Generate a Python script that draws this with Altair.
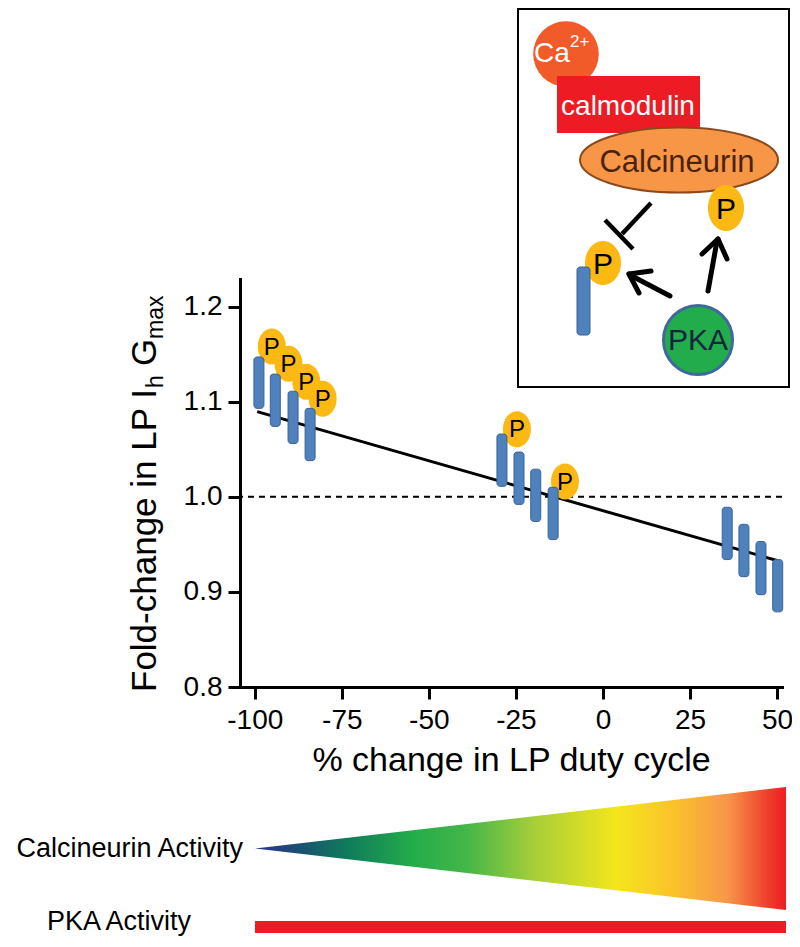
import altair as alt
import pandas as pd

FONT = "Liberation Sans, Arial, Helvetica, sans-serif"

# ---------------- data ----------------
bar_x = [-98.8, -94.1, -89.0, -84.1, -29.0, -24.1, -19.3, -14.3, 35.7, 40.5, 45.4, 50.2]
bar_top = [1.147, 1.129, 1.111, 1.093, 1.066, 1.047, 1.029, 1.010, 0.989, 0.971, 0.953, 0.934]
bar_bottom = [1.093, 1.074, 1.056, 1.038, 1.011, 0.992, 0.974, 0.955, 0.934, 0.916, 0.897, 0.879]
p_x = [-95.1, -90.3, -85.2, -80.5, -24.7, -10.9]
p_y = [1.158, 1.140, 1.121, 1.103, 1.071, 1.016]
p_label = ["P", "P", "P", "P", "P", "P"]
fit_x = [-99.3, 50.0]
fit_y = [1.0895, 0.933]
x_ticks = [-100, -75, -50, -25, 0, 25, 50]
y_ticks = [0.8, 0.9, 1.0, 1.1, 1.2]
x_title = "% change in LP duty cycle"

bars = pd.DataFrame({"x": bar_x, "y": bar_top, "y2": bar_bottom})
pts = pd.DataFrame({"x": p_x, "y": p_y, "t": p_label})
fit = pd.DataFrame({"x": fit_x, "y": fit_y})
one = pd.DataFrame({"k": [0]})

# ---------------- styles ----------------
BLUE, BLUE_EDGE = "#4F81BD", "#3A6396"
GOLD = "#FDB913"
W, H = 542, 408            # plot area
OX, OY = 240, 279          # plot origin on the page


def px(v):
    return v - OX


def py(v):
    return v - OY


def ellipse(a):
    k = 0.5523
    return (f"M0,-1C{k*a:.3f},-1,{a:.3f},{-k:.3f},{a:.3f},0"
            f"C{a:.3f},{k:.3f},{k*a:.3f},1,0,1"
            f"C{-k*a:.3f},1,{-a:.3f},{k:.3f},{-a:.3f},0"
            f"C{-a:.3f},{-k:.3f},{-k*a:.3f},-1,0,-1Z")


xscale = alt.Scale(domain=[-102.8, 50], nice=False, zero=False)
yscale = alt.Scale(domain=[0.8, 1.229], nice=False, zero=False)
xaxis = alt.Axis(values=x_ticks, labelExpr="'' + datum.value", tickSize=12, tickWidth=3,
                 domainWidth=3, domainColor="black", tickColor="black", domainCap="square",
                 labelColor="black", labelFont=FONT, labelFontSize=28, labelPadding=7,
                 labelFlush=False, labelOverlap=False, grid=False,
                 titleFont=FONT, titleFontSize=34, titleFontWeight="normal",
                 titleColor="black", titlePadding=9)
yaxis = alt.Axis(values=y_ticks, format=".1f", tickSize=12, tickWidth=3, domainWidth=3,
                 domainColor="black", tickColor="black", domainCap="square",
                 labelColor="black", labelFont=FONT, labelFontSize=28, labelPadding=6,
                 labelOverlap=False, grid=False)

X = alt.X("x:Q", scale=xscale, axis=xaxis, title=x_title)
Y = alt.Y("y:Q", scale=yscale, axis=yaxis, title=None)

dashed = alt.Chart(one).mark_rule(color="black", strokeWidth=2, strokeDash=[6, 5]).encode(
    y=alt.datum(1.0, scale=yscale))
line = alt.Chart(fit).mark_line(color="black", strokeWidth=3, clip=False).encode(x=X, y=Y)
p_ell = alt.Chart(pts).mark_point(shape=ellipse(0.778), size=1296, filled=True, fill=GOLD,
                                  opacity=1, strokeWidth=0, clip=False).encode(x=X, y=Y)
bar_l = alt.Chart(bars).mark_bar(size=10, cornerRadius=3, color=BLUE, stroke=BLUE_EDGE,
                                 strokeWidth=1, clip=False).encode(x=X, y=Y, y2="y2:Q")
p_txt = alt.Chart(pts).mark_text(font=FONT, fontSize=24, color="black", dy=1,
                                 clip=False).encode(x=X, y=Y, text="t:N")

layers = [dashed, line, p_ell, bar_l, p_txt]


def txt(s, x, y, size, color="black", align="center", baseline="alphabetic", angle=0):
    return alt.Chart(one).mark_text(text=s, font=FONT, fontSize=size, color=color, align=align,
                                    baseline=baseline, angle=angle).encode(
        x=alt.value(px(x)), y=alt.value(py(y)))


def rule(x1, y1, x2, y2, w=5, cap="round"):
    return alt.Chart(one).mark_rule(color="black", strokeWidth=w, strokeCap=cap).encode(
        x=alt.value(px(x1)), y=alt.value(py(y1)), x2=alt.value(px(x2)), y2=alt.value(py(y2)))


def symbol(shape, x, y, size, fill, stroke=None, sw=0):
    kw = dict(shape=shape, size=size, filled=True, fill=fill, opacity=1, strokeWidth=sw)
    if stroke:
        kw["stroke"] = stroke
        kw["strokeOpacity"] = 1
    return alt.Chart(one).mark_point(**kw).encode(x=alt.value(px(x)), y=alt.value(py(y)))


def rect(x1, y1, x2, y2, fill, stroke=None, sw=0, r=0):
    kw = dict(fill=fill, cornerRadius=r, strokeWidth=sw)
    if stroke:
        kw["stroke"] = stroke
    return alt.Chart(one).mark_rect(**kw).encode(
        x=alt.value(px(x1)), y=alt.value(py(y1)), x2=alt.value(px(x2)), y2=alt.value(py(y2)))


# ---------------- y title with subscripts ----------------
layers += [
    txt("Fold-change in LP I", 156, 692, 35, align="left", angle=270),
    txt("h", 163, 388, 23, align="left", angle=270),
    txt("G", 156, 366, 35, align="left", angle=270),
    txt("max", 163, 339, 23, align="left", angle=270),
]

# ---------------- inset schematic ----------------
layers += [
    rect(518, 9, 789, 387, "white", "black", 2),
    symbol("circle", 566, 54, 4301, "#F15A29"),
    txt("Ca", 534, 62, 28, color="white", align="left"),
    txt("2+", 570, 47, 17, color="white", align="left"),
    rect(557, 76, 700, 133, "#ED1C24"),
    txt("calmodulin", 628, 115, 28, color="white"),
    symbol(ellipse(99 / 32.5), 679, 160, 4225, "#F79646", "#8B4A1C", 2),
    txt("Calcineurin", 677, 172, 31, color="#4A230C"),
    symbol(ellipse(0.783), 726, 208, 2116, GOLD),
    txt("P", 726, 219, 30),
    symbol(ellipse(0.818), 603, 263, 1936, GOLD),
    rect(577, 267, 590, 335, BLUE, BLUE_EDGE, 1, 3),
    txt("P", 603, 274, 30),
    rule(651, 203, 622, 234, 4.5, "butt"),
    rule(605, 220, 633, 249, 4.5, "butt"),
    rule(670, 296, 630, 275),
    rule(629, 274, 651, 271),
    rule(629, 274, 639, 293),
    rule(708, 291, 717, 241),
    rule(718, 239, 702, 254),
    rule(718, 239, 727, 259),
    symbol("circle", 698, 340, 4778, "#22AC4B", "#41689E", 3),
    txt("PKA", 698, 350, 30, color="#17263D"),
]

# ---------------- activity bars below ----------------
grad = {
    "gradient": "linear", "x1": 0, "x2": 1, "y1": 0, "y2": 0,
    "stops": [
        {"offset": 0.0, "color": "#2E3192"},
        {"offset": 0.08, "color": "#1B4F72"},
        {"offset": 0.17, "color": "#0F7A5C"},
        {"offset": 0.30, "color": "#24AD4A"},
        {"offset": 0.40, "color": "#45B649"},
        {"offset": 0.53, "color": "#A9CF38"},
        {"offset": 0.68, "color": "#F3E61C"},
        {"offset": 0.79, "color": "#FBC22B"},
        {"offset": 0.89, "color": "#F7964A"},
        {"offset": 0.97, "color": "#EE3A2A"},
        {"offset": 1.0, "color": "#ED1C24"},
    ],
}
layers += [
    symbol("M-1,0L1,-0.2316L1,0.2316Z", 520.5, 848.5, 531 ** 2, grad),
    txt("Calcineurin Activity", 243, 849, 27, align="right", baseline="middle"),
    rect(255, 921, 786, 933, "#ED1C24"),
    txt("PKA Activity", 47, 930, 27, align="left"),
]

chart = alt.layer(*layers).properties(
    width=W, height=H,
    autosize=alt.AutoSizeParams(type="none"),
    padding={"left": OX - 8, "top": OY - 8, "right": 10, "bottom": 939 - OY - H},
).configure_view(strokeWidth=0)

chart.save("out.html", embed_options={"renderer": "svg", "actions": False})
